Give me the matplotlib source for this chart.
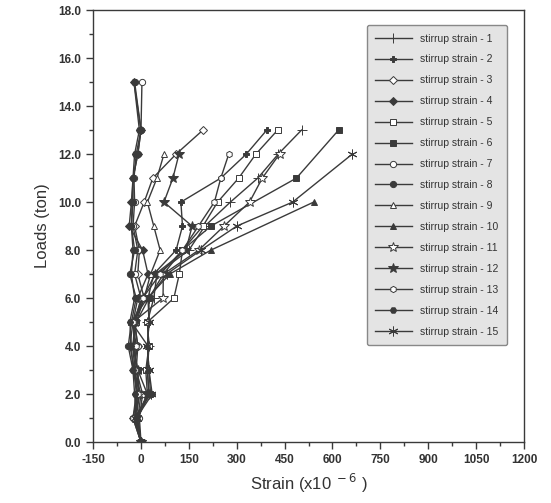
import numpy as np
import matplotlib
matplotlib.use('Agg')
import matplotlib.pyplot as plt
from matplotlib.ticker import MultipleLocator, FormatStrFormatter

plt.rcParams['font.family'] = ['Liberation Sans', 'DejaVu Sans']
plt.rcParams['axes.unicode_minus'] = False

##
## Data (strain x1e-6 vs load in ton)
##
L13 = list(range(0, 14))
L15 = list(range(0, 14)) + [15]

s1 = [0, -20, 25, 20, 25, 20, 40, 50, 150, 200, 280, 366, 430, 503]
s2 = [0, -15, 35, 25, 20, 25, 22, 40, 110, 130, 125, 250, 330, 394]
s3 = [0, -10, 0, -25, -10, -20, 10, -10, -5, -20, 10, 37, 110, 194]
s4 = [0, -25, -15, -20, -35, -25, -10, 22, 5, -37, -30, -25, -10, 0, -22]
s5 = [0, -10, 20, 15, 25, 20, 103, 120, 130, 194, 240, 306, 360, 428]
L6 = list(range(0, 10)) + [11, 13]
s6 = [0, -20, -5, -10, -25, -15, 25, 70, 130, 219, 487, 619]
s7 = [0, -5, 5, -15, -10, -20, 0, -20, -10, -25, -20, -22, -15, 0, 3]
s8 = [0, -20, -10, -25, -40, -30, -15, -35, -20, -30, -25, -25, -10, 0, -20]
L9 = list(range(0, 13))
s9 = [0, -15, -5, -20, -25, -15, 10, 30, 60, 40, 20, 50, 72]
L10 = list(range(0, 9)) + [10]
s10 = [0, -10, 25, 20, 22, -30, 20, 90, 219, 541]
L11 = list(range(0, 13))
s11 = [0, -20, -5, -15, -20, -25, 69, 70, 181, 260, 340, 380, 434]
L12 = list(range(0, 13))
s12 = [0, -15, 20, -10, -25, -20, 5, 45, 141, 160, 72, 100, 119]
L13b = list(range(0, 13))
s13 = [0, -25, -10, -20, -15, -25, 5, 60, 130, 180, 230, 250, 275]
s14 = [0, -15, -20, -25, -30, -35, -20, -30, -25, -30, -28, -25, -20, -5, -22]
L15b = list(range(0, 11)) + [12]
s15 = [0, -20, 30, 25, 20, 25, 25, 80, 188, 300, 475, 662]

series = [
    (s1, L13, '+', False), (s2, L13, 'P', True), (s3, L13, 'D', False),
    (s4, L15, 'D', True), (s5, L13, 's', False), (s6, L6, 's', True),
    (s7, L15, 'o', False), (s8, L15, 'o', True), (s9, L9, '^', False),
    (s10, L10, '^', True), (s11, L11, '*', False), (s12, L12, '*', True),
    (s13, L13b, 'h', False), (s14, L15, 'H', True), (s15, L15b, (6, 2, 0), False),
]

col = '#3a3a3a'
fig = plt.figure(figsize=(5.51, 5.03), dpi=100)
ax = fig.add_axes([0.169, 0.121, 0.782, 0.859])

for i, (xs, ys, m, filled) in enumerate(series):
    ms = 7 if m in ('+', (6, 2, 0), '*') else 4.5
    ax.plot(xs, ys, color=col, lw=1.0, marker=m, markersize=ms,
            markerfacecolor=col if filled else 'white',
            markeredgecolor=col, markeredgewidth=0.7,
            label='stirrup strain - %d' % (i + 1))

ax.set_xlim(-150, 1200)
ax.set_ylim(0, 18)
ax.xaxis.set_major_locator(MultipleLocator(150))
ax.xaxis.set_minor_locator(MultipleLocator(75))
ax.yaxis.set_major_locator(MultipleLocator(2))
ax.yaxis.set_minor_locator(MultipleLocator(1))
ax.yaxis.set_major_formatter(FormatStrFormatter('%.1f'))
ax.tick_params(which='both', direction='out', colors=col, width=1.0)
ax.tick_params(which='major', length=5)
ax.tick_params(which='minor', length=3)
for lab in ax.get_xticklabels() + ax.get_yticklabels():
    lab.set_fontweight('bold')
    lab.set_fontsize(8.5)
    lab.set_color('#333333')
for sp in ax.spines.values():
    sp.set_color(col)
    sp.set_linewidth(1.0)

ax.set_xlabel('Strain (x10$^{\\ -6}$ )', fontsize=12, color='#333333', labelpad=4)
ax.set_ylabel('Loads (ton)', fontsize=12, color='#333333', labelpad=6)

leg = ax.legend(loc='upper right', bbox_to_anchor=(0.972, 0.977), fontsize=7.5,
                handlelength=3.5, labelspacing=1.05, fancybox=True,
                framealpha=1, facecolor='#e4e4e4', edgecolor='#888888',
                borderpad=0.8)
for t in leg.get_texts():
    t.set_color('#333333')

plt.savefig('out.png', dpi=100)
